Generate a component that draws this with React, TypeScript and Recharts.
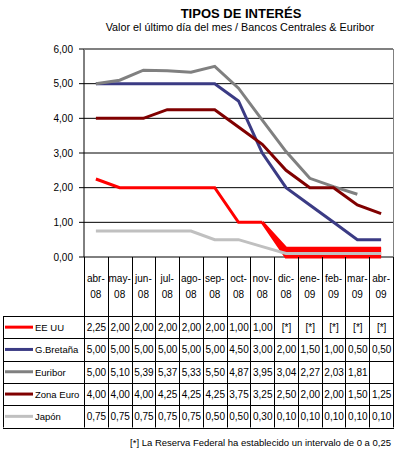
import React from 'react';
import { ComposedChart, Line, Area, XAxis, YAxis, CartesianGrid } from 'recharts';

const months = ['abr-08', 'may-08', 'jun-08', 'jul-08', 'ago-08', 'sep-08', 'oct-08', 'nov-08', 'dic-08', 'ene-09', 'feb-09', 'mar-09', 'abr-09'];
const eeUU: (number | null)[] = [2.25, 2.0, 2.0, 2.0, 2.0, 2.0, 1.0, 1.0, null, null, null, null, null];
const eeUUBandLow: (number | null)[] = [null, null, null, null, null, null, null, 1.0, 0, 0, 0, 0, 0];
const eeUUBandHigh: (number | null)[] = [null, null, null, null, null, null, null, 1.0, 0.25, 0.25, 0.25, 0.25, 0.25];
const gBretana: (number | null)[] = [5.0, 5.0, 5.0, 5.0, 5.0, 5.0, 4.5, 3.0, 2.0, 1.5, 1.0, 0.5, 0.5];
const euribor: (number | null)[] = [5.0, 5.1, 5.39, 5.37, 5.33, 5.5, 4.87, 3.95, 3.04, 2.27, 2.03, 1.81, null];
const zonaEuro: (number | null)[] = [4.0, 4.0, 4.0, 4.25, 4.25, 4.25, 3.75, 3.25, 2.5, 2.0, 2.0, 1.5, 1.25];
const japon: (number | null)[] = [0.75, 0.75, 0.75, 0.75, 0.75, 0.5, 0.5, 0.3, 0.1, 0.1, 0.1, 0.1, 0.1];
const yTicks = [0, 1, 2, 3, 4, 5, 6];

const title = 'TIPOS DE INTERÉS';
const subtitle = 'Valor el último día del mes / Bancos Centrales & Euribor';
const footnoteMark = '[*]';
const footnote = '[*] La Reserva Federal ha establecido un intervalo de 0 a 0,25';

const series = [
  { key: 'eeUU', name: 'EE UU', values: eeUU, color: '#FF0000', missing: footnoteMark },
  { key: 'gBretana', name: 'G.Bretaña', values: gBretana, color: '#3B3B84', missing: '' },
  { key: 'euribor', name: 'Euribor', values: euribor, color: '#808080', missing: '' },
  { key: 'zonaEuro', name: 'Zona Euro', values: zonaEuro, color: '#800000', missing: '' },
  { key: 'japon', name: 'Japón', values: japon, color: '#C0C0C0', missing: '' },
];

const data = months.map((m, i) => ({
  month: m,
  eeUU: eeUU[i],
  eeUUBand: eeUUBandLow[i] === null ? null : [eeUUBandLow[i], eeUUBandHigh[i]],
  gBretana: gBretana[i],
  euribor: euribor[i],
  zonaEuro: zonaEuro[i],
  japon: japon[i],
}));

const fmt = (v: number) => v.toFixed(2).replace('.', ',');
const FONT = '"Liberation Sans", Arial, sans-serif';

const W = 397;
const PLOT_L = 84;
const PLOT_R = 393;
const PLOT_T = 49;
const PLOT_B = 257;
const COL_W = (PLOT_R - PLOT_L) / months.length;
const ROW_TOP = 316;
const ROW_H = 22.3;
const TABLE_L = 3;

function DataTable() {
  const tableBottom = ROW_TOP + ROW_H * series.length;
  const lines: React.ReactNode[] = [];
  for (let i = 0; i <= months.length; i++) {
    const x = Math.round(PLOT_L + i * COL_W) + 0.5;
    lines.push(<line key={'v' + i} x1={x} x2={x} y1={PLOT_B} y2={tableBottom} stroke="#000" strokeWidth={1} />);
  }
  lines.push(<line key="vl" x1={TABLE_L + 0.5} x2={TABLE_L + 0.5} y1={ROW_TOP} y2={tableBottom} stroke="#000" strokeWidth={1} />);
  for (let r = 0; r <= series.length; r++) {
    const y = Math.round(ROW_TOP + r * ROW_H) + 0.5;
    lines.push(<line key={'h' + r} x1={TABLE_L} x2={Math.round(PLOT_R) + 1} y1={y} y2={y} stroke="#000" strokeWidth={1} />);
  }
  return (
    <svg width={W} height={452} style={{ position: 'absolute', left: 0, top: 0 }} fontFamily={FONT}>
      {lines}
      {months.map((m, i) => {
        const [a, b] = m.split('-');
        const cx = PLOT_L + (i + 0.5) * COL_W;
        return (
          <g key={m}>
            <text x={cx} y={282} textAnchor="middle" fontSize={10} fill="#000">{a + '-'}</text>
            <text x={cx} y={298} textAnchor="middle" fontSize={10} fill="#000">{b}</text>
          </g>
        );
      })}
      {series.map((s, r) => {
        const top = ROW_TOP + r * ROW_H;
        const cy = top + ROW_H / 2;
        return (
          <g key={s.key}>
            <line x1={5} x2={33} y1={cy} y2={cy} stroke={s.color} strokeWidth={3} />
            <text x={35} y={cy + 4} fontSize={9.5} fill="#000">{s.name}</text>
            {s.values.map((v, i) => (
              <text key={i} x={PLOT_L + (i + 0.5) * COL_W + 0.5} y={cy + 4} textAnchor="middle" fontSize={10} fill="#000">
                {v === null ? s.missing : fmt(v)}
              </text>
            ))}
          </g>
        );
      })}
      <text x={391} y={446} textAnchor="end" fontSize={9.5} fill="#000">{footnote}</text>
    </svg>
  );
}

export default function App() {
  return (
    <div style={{ position: 'absolute', left: 0, top: 0, width: W, height: 452, background: '#fff', fontFamily: FONT }}>
      <svg width={W} height={40} style={{ position: 'absolute', left: 0, top: 0 }} fontFamily={FONT}>
        <text x={241} y={17.5} textAnchor="middle" fontSize={13} fontWeight="bold" fill="#000">{title}</text>
        <text x={240} y={31} textAnchor="middle" fontSize={10.8} fill="#000">{subtitle}</text>
      </svg>
      <div style={{ position: 'absolute', left: 0, top: 0 }}>
        <ComposedChart width={W} height={PLOT_B + 13} data={data} margin={{ top: PLOT_T, right: W - PLOT_R, bottom: 13, left: 0 }}>
          <CartesianGrid vertical={false} stroke="#000" strokeDasharray="" horizontalValues={yTicks} />
          <XAxis dataKey="month" hide padding={{ left: COL_W / 2, right: COL_W / 2 }} />
          <YAxis
            domain={[0, 6]}
            ticks={yTicks}
            width={PLOT_L}
            tickFormatter={fmt}
            axisLine={{ stroke: '#000' }}
            tickLine={{ stroke: '#000' }}
            tickSize={5}
            tickMargin={6}
            tick={{ fontSize: 10, fill: '#000', fontFamily: FONT }}
            interval={0}
          />
          <Area dataKey="eeUUBand" type="linear" stroke="#FF0000" strokeWidth={3} fill="#FF0000" fillOpacity={1} isAnimationActive={false} dot={false} activeDot={false} />
          <Line dataKey="eeUU" type="linear" stroke="#FF0000" strokeWidth={3} dot={false} isAnimationActive={false} />
          <Line dataKey="gBretana" type="linear" stroke="#3B3B84" strokeWidth={3} dot={false} isAnimationActive={false} />
          <Line dataKey="euribor" type="linear" stroke="#808080" strokeWidth={3} dot={false} isAnimationActive={false} />
          <Line dataKey="zonaEuro" type="linear" stroke="#800000" strokeWidth={3} dot={false} isAnimationActive={false} />
          <Line dataKey="japon" type="linear" stroke="#C0C0C0" strokeWidth={3} dot={false} isAnimationActive={false} />
        </ComposedChart>
      </div>
      <div style={{ position: 'absolute', left: PLOT_L, top: PLOT_T, width: PLOT_R - PLOT_L, height: 1, background: '#808080' }} />
      <div style={{ position: 'absolute', left: PLOT_R, top: PLOT_T, width: 1, height: PLOT_B - PLOT_T, background: '#808080' }} />
      <DataTable />
    </div>
  );
}
